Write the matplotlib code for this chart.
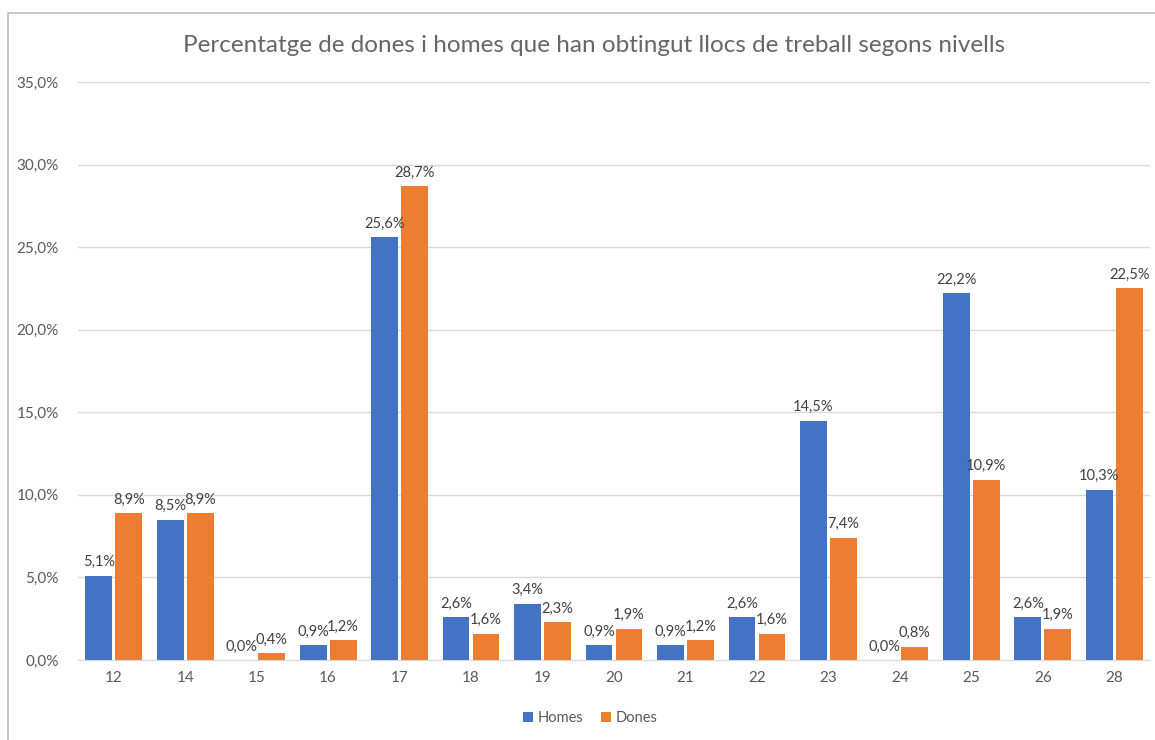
import matplotlib
matplotlib.use("Agg")
import matplotlib.pyplot as plt
import numpy as np
from matplotlib.lines import Line2D

plt.rcParams['font.family'] = ['Lato', 'DejaVu Sans']

nivells = ["12", "14", "15", "16", "17", "18", "19", "20", "21", "22", "23", "24", "25", "26", "28"]
homes = [5.1, 8.5, 0.0, 0.9, 25.6, 2.6, 3.4, 0.9, 0.9, 2.6, 14.5, 0.0, 22.2, 2.6, 10.3]
dones = [8.9, 8.9, 0.4, 1.2, 28.7, 1.6, 2.3, 1.9, 1.2, 1.6, 7.4, 0.8, 10.9, 1.9, 22.5]

gris = "#595959"
fig = plt.figure(figsize=(11.55, 7.4), dpi=100)
# vora del grafic (dalt i esquerra)
fig.lines.append(Line2D([8 / 1155, 8 / 1155, 1], [0, 1 - 13 / 740, 1 - 13 / 740], transform=fig.transFigure,
                        color="#bfbfbf", linewidth=1.2))
ax = fig.add_axes([78 / 1155, 80 / 740, 1072 / 1155, 578 / 740])

x = np.arange(len(nivells))
w = 0.375
b1 = ax.bar(x - 0.21, homes, w, color="#4472C4", label="Homes")
b2 = ax.bar(x + 0.21, dones, w, color="#ED7D31", label="Dones")

def etiqueta(v):
    return ("%.1f%%" % v).replace(".", ",")

for bars, vals in [(b1, homes), (b2, dones)]:
    for r, v in zip(bars, vals):
        ax.text(r.get_x() + r.get_width() / 2, v + 0.4, etiqueta(v), ha="center", va="bottom",
                fontsize=10.5, color="#404040")

ax.set_xlim(-0.5, len(nivells) - 0.5)
ax.set_ylim(0, 35)
ax.set_yticks(np.arange(0, 36, 5))
ax.set_yticklabels([("%.1f%%" % t).replace(".", ",") for t in np.arange(0, 36, 5)])
ax.set_xticks(x)
ax.set_xticklabels(nivells)
ax.tick_params(axis="both", length=0, labelsize=11, colors=gris)
ax.tick_params(axis="y", pad=14)
ax.tick_params(axis="x", pad=8)
ax.grid(axis="y", color="#d9d9d9", linewidth=1)
ax.set_axisbelow(True)
for s in ["top", "right", "left"]:
    ax.spines[s].set_visible(False)
ax.spines["bottom"].set_color("#d9d9d9")

fig.text(0.514, 1 - 45 / 740, "Percentatge de dones i homes que han obtingut llocs de treball segons nivells",
         ha="center", va="center", fontsize=17.5, color="#666666")
fig.legend(handles=[b1, b2], loc="center", bbox_to_anchor=(590 / 1155, 1 - 718 / 740), ncol=2,
           frameon=False, fontsize=10.5, handlelength=0.7, handleheight=0.7, handletextpad=0.3,
           columnspacing=1.2, labelcolor=gris)

fig.savefig("out.png", dpi=100)
